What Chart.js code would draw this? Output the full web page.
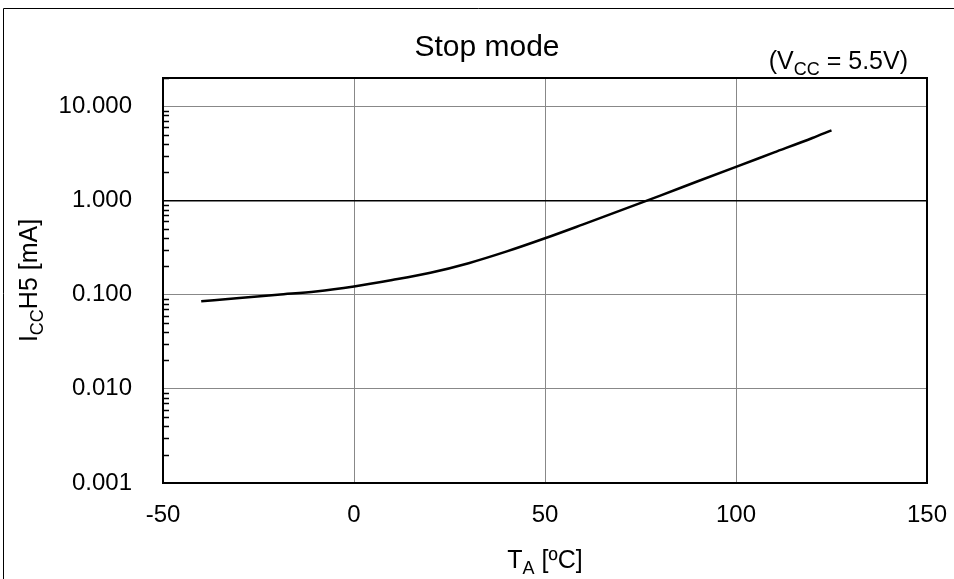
<!DOCTYPE html>
<html>
<head>
<meta charset="utf-8">
<script src="https://cdn.jsdelivr.net/npm/chart.js@4/dist/chart.umd.min.js"></script>
<style>
  html, body { margin: 0; padding: 0; background: #fff; }
  canvas { display: block; }
</style>
</head>
<body>
<canvas id="iccChart" width="954" height="579"></canvas>
<script>
// Stop mode supply current vs ambient temperature (Vcc = 5.5V)
const temps = [-40, -30, -20, -10, 0, 10, 20, 30, 40, 50, 60, 70, 80, 90, 100, 110, 120, 125];
const iccValues = [0.085, 0.092, 0.100, 0.108, 0.122, 0.143, 0.171, 0.216, 0.288, 0.397, 0.558, 0.789, 1.12, 1.60, 2.28, 3.24, 4.61, 5.56];
const yMajorTicks = [0.001, 0.01, 0.1, 1, 10];
const xTicks = [-50, 0, 50, 100, 150];

const FONT = '"Liberation Sans", Arial, Helvetica, sans-serif';

// draws text made of parts, some of them subscript, centered or aligned at x
function drawRichText(ctx, parts, x, y, size, align) {
    const subSize = Math.round(size * 0.72);
    let total = 0;
    parts.forEach(p => {
        ctx.font = `${p.sub ? subSize : size}px ${FONT}`;
        p.w = ctx.measureText(p.text).width;
        total += p.w;
    });
    let cx = align === 'right' ? x - total : (align === 'left' ? x : x - total / 2);
    ctx.textAlign = 'left';
    ctx.textBaseline = 'middle';
    parts.forEach(p => {
        ctx.font = `${p.sub ? subSize : size}px ${FONT}`;
        ctx.fillText(p.text, cx, p.sub ? y + size * 0.32 : y);
        cx += p.w;
    });
}

const decorPlugin = {
    id: 'decor',
    afterDraw(chart) {
        const ctx = chart.ctx;
        const area = chart.chartArea;
        const yScale = chart.scales.y;
        ctx.save();

        // outer frame of the figure (only left and top visible)
        ctx.strokeStyle = '#000';
        ctx.lineWidth = 1;
        ctx.beginPath();
        ctx.moveTo(3.5, 579);
        ctx.lineTo(3.5, 8.5);
        ctx.lineTo(954, 8.5);
        ctx.stroke();

        // minor log ticks on the left axis, pointing inward
        ctx.lineWidth = 1.5;
        yMajorTicks.forEach(d => {
            for (let k = 2; k <= 9; k++) {
                const v = d * k;
                if (v > yScale.max) continue;
                const py = Math.round(yScale.getPixelForValue(v)) + 0.5;
                ctx.beginPath();
                ctx.moveTo(area.left, py);
                ctx.lineTo(area.left + 6, py);
                ctx.stroke();
            }
        });

        // plot frame
        ctx.lineWidth = 2;
        ctx.strokeRect(area.left, area.top, area.right - area.left, area.bottom - area.top);

        ctx.fillStyle = '#000';
        drawRichText(ctx, [{ text: 'Stop mode' }], 487, 48, 30, 'center');
        drawRichText(ctx, [{ text: '(V' }, { text: 'CC', sub: true }, { text: ' = 5.5V)' }], 908, 62, 25, 'right');
        drawRichText(ctx, [{ text: 'T' }, { text: 'A', sub: true }, { text: ' [ºC]' }], 545, 561, 25, 'center');

        ctx.translate(30, (area.top + area.bottom) / 2);
        ctx.rotate(-Math.PI / 2);
        drawRichText(ctx, [{ text: 'I' }, { text: 'CC', sub: true }, { text: 'H5 [mA]' }], 0, 0, 25, 'center');
        ctx.restore();
    }
};

const ctx = document.getElementById('iccChart').getContext('2d');
new Chart(ctx, {
    type: 'line',
    data: {
        datasets: [{
            data: temps.map((t, i) => ({ x: t, y: iccValues[i] })),
            borderColor: '#000',
            borderWidth: 2.5,
            pointRadius: 0,
            fill: false,
            cubicInterpolationMode: 'monotone'
        }]
    },
    options: {
        responsive: false,
        animation: false,
        events: [],
        layout: {
            padding: { left: 0, top: 78, right: 27, bottom: 0 }
        },
        plugins: {
            legend: { display: false },
            tooltip: { enabled: false }
        },
        scales: {
            x: {
                type: 'linear',
                min: -50,
                max: 150,
                afterBuildTicks: scale => {
                    scale.ticks = xTicks.map(v => ({ value: v }));
                },
                afterFit: scale => {
                    scale.height = 96;
                    scale.paddingLeft = 0;
                    scale.paddingRight = 0;
                },
                grid: {
                    color: '#888',
                    lineWidth: 1,
                    drawTicks: false
                },
                border: { display: false },
                ticks: {
                    padding: 18,
                    color: '#000',
                    font: { family: FONT, size: 24 },
                    maxRotation: 0
                }
            },
            y: {
                type: 'logarithmic',
                min: 0.001,
                max: 20,
                afterBuildTicks: scale => {
                    scale.ticks = yMajorTicks.map(v => ({ value: v }));
                },
                afterFit: scale => {
                    scale.width = 163;
                    scale.paddingTop = 0;
                    scale.paddingBottom = 0;
                },
                grid: {
                    color: c => (c.tick && c.tick.value === 1) ? '#000' : '#888',
                    lineWidth: c => (c.tick && c.tick.value === 1) ? 1.5 : 1,
                    drawTicks: false
                },
                border: { display: false },
                ticks: {
                    padding: 31,
                    color: '#000',
                    font: { family: FONT, size: 24 },
                    callback: v => Number(v).toFixed(3)
                }
            }
        }
    },
    plugins: [decorPlugin]
});
</script>
</body>
</html>
